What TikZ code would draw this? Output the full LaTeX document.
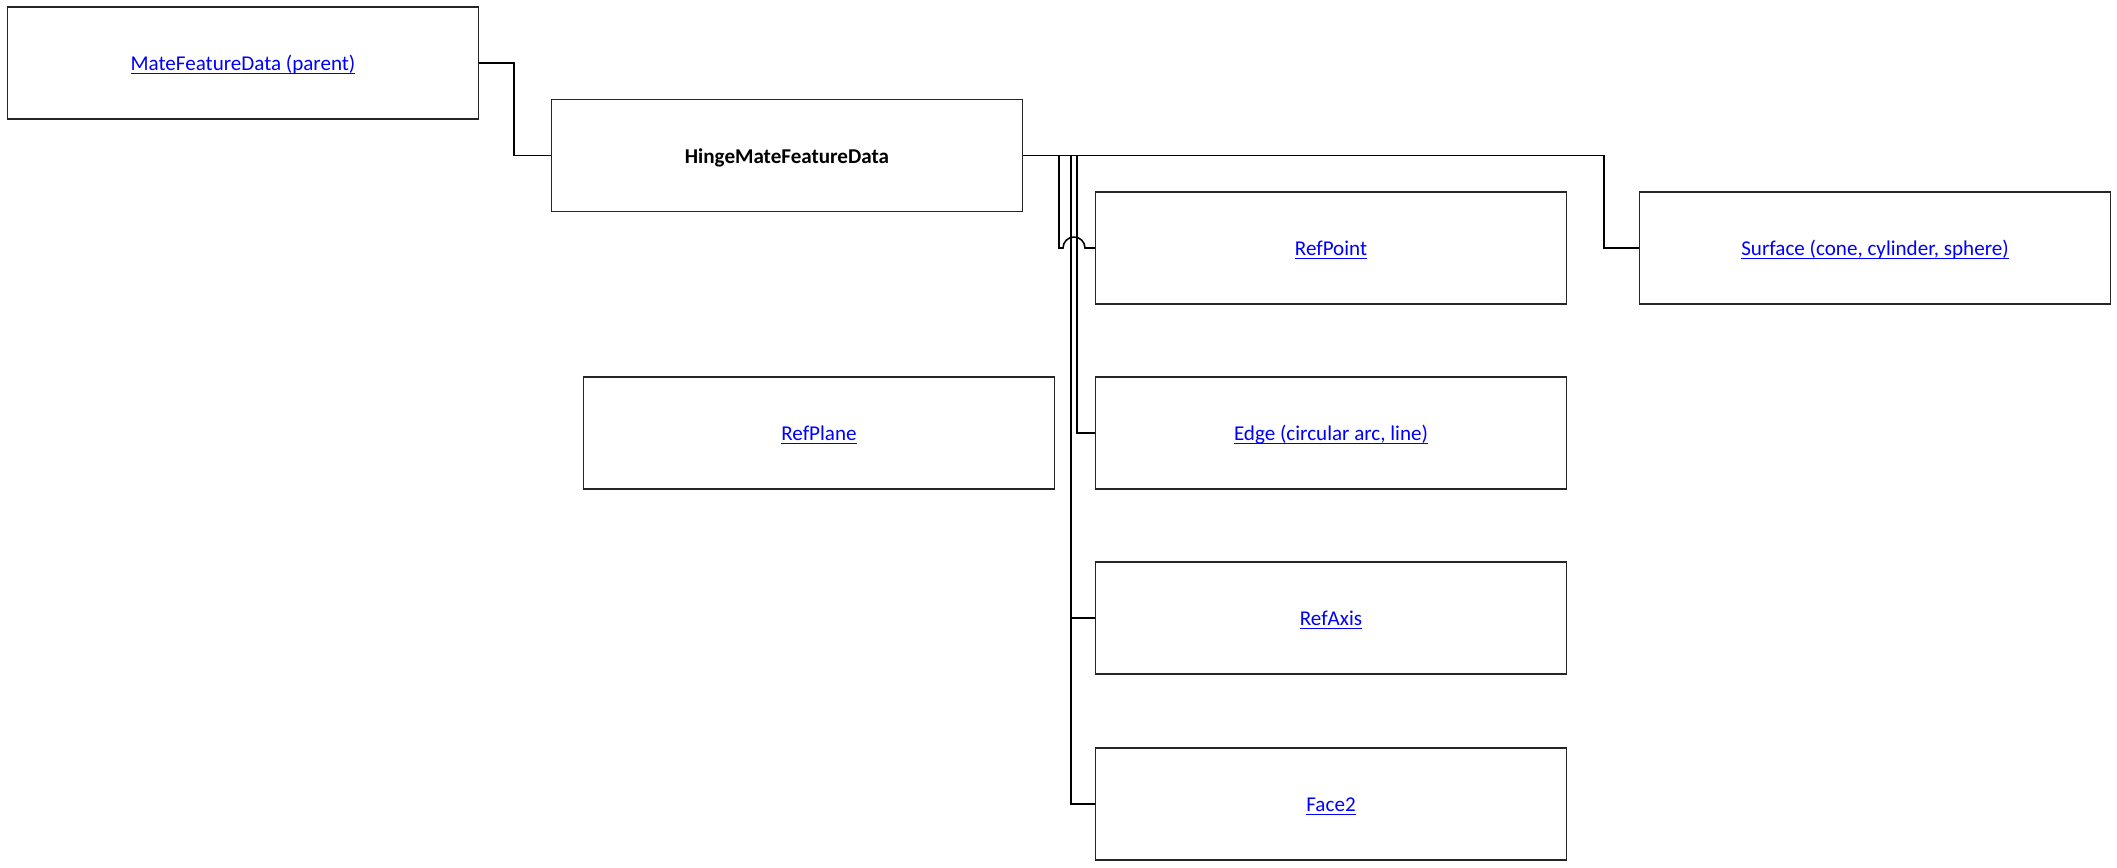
\documentclass[tikz,border=0pt]{standalone}
\usepackage{fontspec}
\setmainfont{Carlito}
\usetikzlibrary{positioning,calc}
\newcommand\linkword[1]{\underline{\smash{#1}}}

\begin{document}
\begin{tikzpicture}[
    x=0.02cm, y=-0.02cm,
    font=\fontsize{12}{14}\selectfont,
    box/.style={
        draw=black!85,
        line width=0.7pt,
        minimum width=9.42cm,
        minimum height=2.24cm,
        inner sep=0pt,
        text height=8.8pt,
        text depth=0pt,
        align=center
    },
    linkbox/.style={box, text=blue},
    mainbox/.style={box, font=\fontsize{12}{14}\selectfont\bfseries},
    wire/.style={line width=0.9pt, black}
]
\useasboundingbox (0,0) rectangle (2117,867);

% ------------------------------------------------------------
% boxes
% ------------------------------------------------------------
\node[linkbox] (parent) at (243,63) {\linkword{MateFeatureData (parent)}};
\node[mainbox] (hinge) at (787,155.5) {HingeMateFeatureData};
\node[linkbox] (refpoint) at (1331,248) {\linkword{RefPoint}};
\node[linkbox] (surface) at (1875,248) {\linkword{Surface (cone, cylinder, sphere)}};
\node[linkbox] (refplane) at (819,433) {\linkword{RefPlane}};
\node[linkbox] (edge) at (1331,433) {\linkword{Edge (circular arc, line)}};
\node[linkbox] (refaxis) at (1331,618) {\linkword{RefAxis}};
\node[linkbox] (face) at (1331,804) {\linkword{Face2}};

% ------------------------------------------------------------
% connectors
% ------------------------------------------------------------
\draw[wire] (parent.east) -- ++(35,0) |- (hinge.west);
\draw[wire] (hinge.east) -- ++(581,0) |- (surface.west);

\coordinate (jpoint) at (1059,155.5);
\coordinate (jaxis) at (1071,155.5);
\coordinate (jedge) at (1077,155.5);

% RefPoint, hopping over the two other lines
\draw[wire] (jpoint) -- (jpoint |- refpoint.west) -- ++(4,0)
    arc[start angle=180, end angle=0, radius=0.22cm] -- (refpoint.west);
\draw[wire] (jedge) |- (edge.west);
\draw[wire] (jaxis) |- (face.west);
\draw[wire] (refaxis.west) -- (refaxis.west -| jaxis);

\end{tikzpicture}
\end{document}
